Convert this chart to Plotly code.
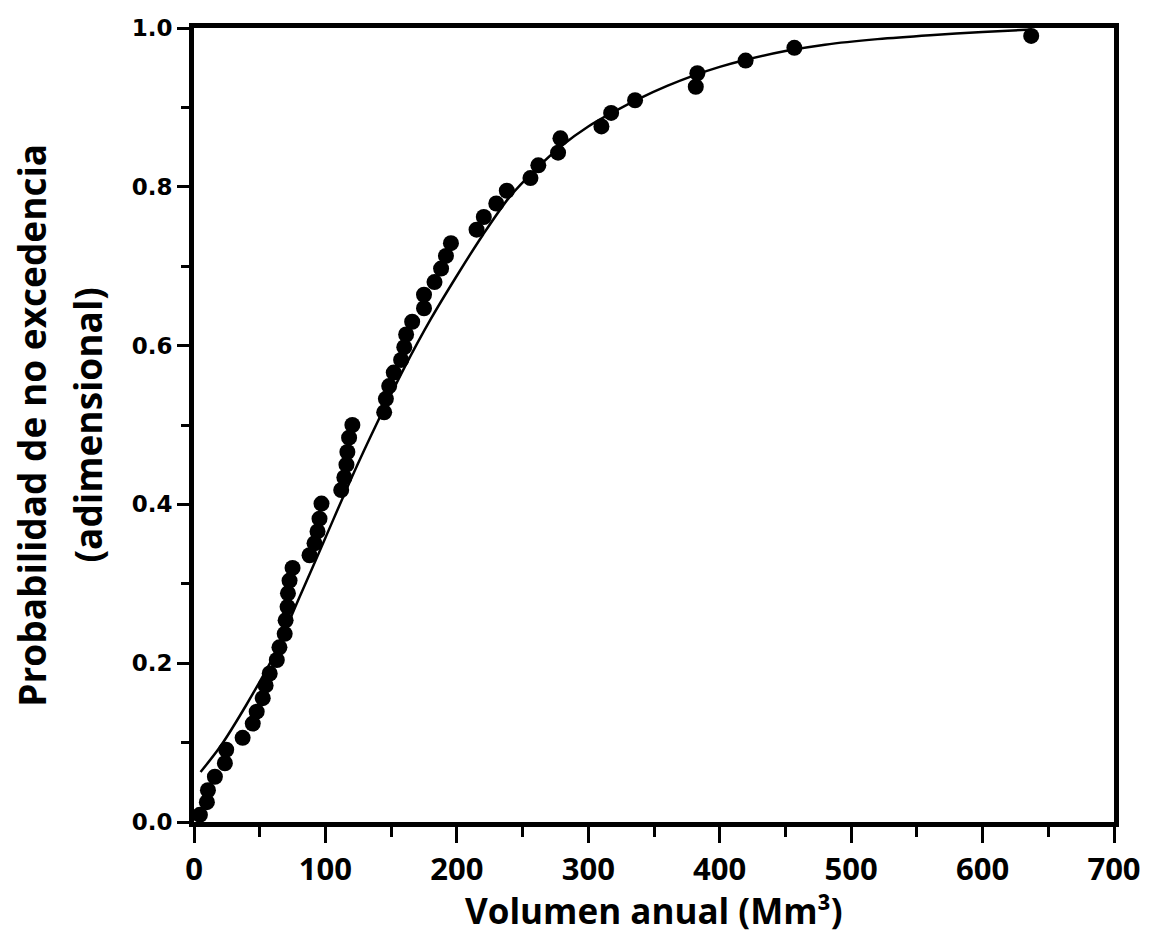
import plotly.graph_objects as go

# Observed data (annual volume, Mm3) and non-exceedance probability
vol_obs = [4.5, 9.8, 10.6, 15.9, 23.5, 24.5, 37, 44.7, 47.7, 52.3, 54.5, 57.6, 63, 65, 69, 69.7,
           71.2, 71.5, 72.7, 75, 87.9, 91.7, 94, 95.5, 97, 112, 114.4, 116, 116.7, 118, 120.5,
           144.7, 146, 148.5, 152, 157.6, 160, 161.4, 166, 175, 175, 183, 188, 191.7, 195.5,
           215, 220.5, 230, 238, 256, 262, 277, 278.8, 310, 317.4, 335.6, 381.8, 383, 419.7,
           456.8, 637]
prob_obs = [0.009, 0.025, 0.040, 0.057, 0.074, 0.091, 0.106, 0.124, 0.139, 0.156, 0.172, 0.187,
            0.204, 0.220, 0.237, 0.254, 0.271, 0.288, 0.304, 0.320, 0.336, 0.351, 0.366, 0.382,
            0.401, 0.418, 0.434, 0.450, 0.466, 0.484, 0.500, 0.516, 0.533, 0.549, 0.566, 0.582,
            0.598, 0.614, 0.630, 0.647, 0.664, 0.680, 0.697, 0.713, 0.729, 0.746, 0.762, 0.779,
            0.795, 0.811, 0.827, 0.843, 0.861, 0.876, 0.893, 0.909, 0.926, 0.943, 0.959, 0.975,
            0.990]

# Fitted distribution curve
vol_fit = [5, 20, 40, 60, 80, 100, 120, 140, 160, 180, 200, 220, 240, 260, 280, 300, 320, 340,
           360, 380, 400, 420, 450, 480, 520, 560, 600, 637]
prob_fit = [0.063, 0.095, 0.148, 0.207, 0.282, 0.358, 0.434, 0.505, 0.572, 0.633, 0.688, 0.740,
            0.787, 0.822, 0.852, 0.876, 0.895, 0.912, 0.927, 0.940, 0.951, 0.960, 0.971, 0.979,
            0.986, 0.991, 0.995, 0.998]

x_ticks = [0, 100, 200, 300, 400, 500, 600, 700]
y_ticks = [0.0, 0.2, 0.4, 0.6, 0.8, 1.0]

fig = go.Figure()
fig.add_trace(go.Scatter(x=vol_fit, y=prob_fit, mode="lines",
                         line=dict(color="black", width=2.5, shape="spline", smoothing=0.8),
                         showlegend=False, cliponaxis=False))
fig.add_trace(go.Scatter(x=vol_obs, y=prob_obs, mode="markers", marker=dict(color="black", size=16),
                         showlegend=False, cliponaxis=False))

axis_common = dict(showline=True, linecolor="black", linewidth=5, mirror=True, showgrid=False,
                   zeroline=False, ticks="outside", tickcolor="black", tickwidth=3)

fig.update_xaxes(range=[0, 700], tickvals=x_ticks, ticktext=[str(v) for v in x_ticks], ticklen=16,
                 tickfont=dict(family="Liberation Sans Narrow, Open Sans", size=31, color="black",
                               weight="bold"),
                 minor=dict(dtick=50, ticks="outside", ticklen=10, tickwidth=3, tickcolor="black"),
                 **axis_common)
fig.update_yaxes(range=[0, 1.0], tickvals=y_ticks, ticktext=[f"{v:.1f}" for v in y_ticks], ticklen=12,
                 tickfont=dict(family="DejaVu Sans", size=23, color="black", weight="bold"),
                 minor=dict(dtick=0.1, ticks="outside", ticklen=8, tickwidth=3, tickcolor="black"),
                 **axis_common)

title_font = dict(family="Open Sans", size=37, color="black", weight="bold")
fig.add_annotation(text="Volumen anual (Mm³)", xref="paper", yref="paper",
                   x=0.5, y=-0.112, xanchor="center", yanchor="middle", showarrow=False,
                   font=dict(family="Open Sans", size=35, color="black", weight="bold"))
fig.add_annotation(text="Probabilidad de no excedencia", xref="paper", yref="paper",
                   x=-0.1775, y=0.5, xanchor="center", yanchor="middle", textangle=-90,
                   showarrow=False, font=title_font)
fig.add_annotation(text="(adimensional)", xref="paper", yref="paper",
                   x=-0.1158, y=0.5, xanchor="center", yanchor="middle", textangle=-90,
                   showarrow=False, font=title_font)

fig.update_layout(width=1153, height=937, margin=dict(l=194, r=35, t=28, b=115),
                  plot_bgcolor="white", paper_bgcolor="white")

fig.write_html("out.html")
